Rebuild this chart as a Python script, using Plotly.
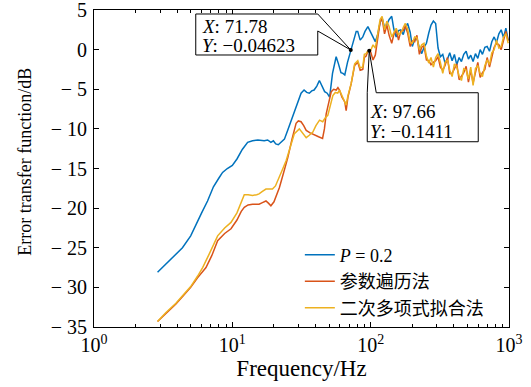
import plotly.graph_objects as go
import math

# ---------------- data ----------------
blue_f = [2.88, 3.5, 4.36, 5.0, 5.46, 6.0, 6.62, 7.3, 8.0, 8.5, 9.2, 10.0, 10.8, 11.8, 12.9,
          14.0, 15.3, 16.2, 17.0, 18.0, 19.0, 19.8, 20.6, 21.5, 22.5, 23.8, 25.1, 26.5, 28.1,
          29.8, 31.4, 33.0, 34.5, 36.0, 37.5, 39.0, 40.8, 42.6, 44.5, 46.5, 48.5, 50.5, 53.0,
          56.3, 58.5, 61.0, 63.0, 65.0, 68.0, 71.78, 75.0, 78.6, 80.6, 84.0, 87.7, 91.0, 95.5,
          100, 104, 108, 112, 117, 121, 126, 131, 136, 142, 147, 153, 159, 165, 172, 178, 185,
          193, 200, 208, 216, 225, 234, 243, 253, 263, 273, 284, 295, 307, 319, 332, 345, 359,
          373, 388, 403, 419, 436, 453, 471, 490, 509, 529, 550, 572, 595, 619, 643, 669, 695,
          723, 751, 781, 812, 845, 878, 913, 949, 987]
blue_db = [-28.1, -26.6, -25.0, -23.5, -22.0, -20.6, -19.1, -17.3, -16.2, -15.5, -15.0, -14.6,
           -13.8, -12.6, -11.7, -11.5, -11.4, -11.5, -11.5, -11.4, -11.7, -11.5, -11.9, -12.0,
           -11.7, -11.3, -10.2, -9.0, -7.7, -6.5, -5.5, -5.1, -5.4, -5.5, -5.2, -5.1, -4.6, -3.9,
           -4.6, -5.3, -5.5, -6.0, -3.0, -0.9, -1.8, -2.9, -3.0, -3.2, -1.6, -0.04623, 1.0, 2.3,
           2.3, 1.2, 1.6, 2.3, 2.9,
           2.1, 1.6, 1.0, 1.8, 3.4, 4.0, 2.8, 3.2, 3.8, 4.2, 2.6, 1.6, 2.4, 2.5, 1.9, 2.8, 3.3,
           2.2, 0.4, 1.3, 1.4, 0.2, -0.5, 0.3, 0.8, 2.1, 3.1, 3.6, 3.3, 0.2, -0.9, -0.6, -1.7,
           -1.2, -0.4, -1.4, -0.6, -1.9, -1.0, -1.5, -0.6, -0.2, -1.2, -0.7, -1.5, -0.5, -1.1,
           0.0, -0.6, 0.3, 0.4, -0.2, 1.0, 1.6, 0.9, 2.0, 2.5, 1.5, 2.7, 1.2]

orange_f = [2.88, 3.3, 3.91, 4.5, 5.0, 5.6, 6.45, 7.1, 7.83, 8.8, 9.78, 10.8, 11.6, 12.2, 13.0,
            14.0, 14.9, 15.6, 16.5, 17.5, 18.3, 19.0, 20.0, 21.0, 21.9, 23.5, 25.2, 27.0, 28.9,
            30.0, 31.4, 32.8, 34.2, 36.5, 39.3, 42.0, 44.9, 46.3, 47.7, 49.8, 51.9, 54.0, 56.4,
            58.0, 59.5, 62.0, 65.0, 66.5, 68.5, 72.3, 76.6, 80.7, 84.0, 87.7, 90.0, 92.7, 95.0,
            97.66,
            100, 104, 108, 112, 117, 121, 126, 131, 136, 142, 147, 153, 159, 165, 172, 178, 185,
            193, 200, 208, 216, 225, 234, 243, 253, 263, 273, 284, 295, 307, 319, 332, 345, 359,
            373, 388, 403, 419, 436, 453, 471, 490, 509, 529, 550, 572, 595, 619, 643, 669, 695,
            723, 751, 781, 812, 845, 878, 913, 949, 987]
orange_db = [-34.3, -33.3, -32.1, -30.9, -30.0, -28.8, -27.5, -26.0, -24.1, -23.2, -22.6, -21.5,
             -20.4, -19.9, -19.6, -19.5, -19.5, -19.5, -19.3, -19.1, -19.4, -19.7, -19.2, -18.3,
             -17.4, -15.5, -13.6, -11.3, -9.3, -9.0, -9.1, -9.6, -10.2, -10.5, -10.8, -11.0,
             -11.2, -10.0, -8.1, -6.5, -5.3, -5.0, -5.1, -4.8, -5.1, -6.0, -6.6, -7.7, -6.0, -4.3,
             -2.0, -1.6, -2.6, -2.5, -1.0, -0.8, -0.3, -0.1411,
             -0.3, -1.3, -0.7, 1.2, 3.5, 3.9, 2.0, 3.1, 1.8, 0.8, 1.9, 2.5, 1.2, 2.3, 2.4, 3.0,
             2.1, 0.4, 1.1, 1.0, 1.8, -0.6, 0.3, 0.5, -1.3, -1.4, -1.9, -1.6, -1.4, -0.9, -2.2,
             -2.6, -2.0, -1.0, -3.0, -3.0, -2.4, -1.8, -3.8, -3.4, -2.9, -2.1, -4.1, -2.6, -4.2,
             -2.9, -1.6, -3.5, -2.9, -2.5, -1.0, -2.2, -0.8, 0.3, 0.8, 0.6, 0.0, 1.2, 2.3, 1.1]

yellow_f = [2.88, 3.3, 3.91, 4.5, 5.0, 5.6, 6.1, 6.8, 7.83, 8.8, 9.78, 10.8, 11.6, 12.2, 13.0,
            14.0, 15.0, 15.6, 16.5, 17.5, 18.5, 19.5, 20.5, 21.9, 23.2, 24.5, 26.3, 28.1, 30.5,
            32.3, 34.2, 36.0, 38.2, 40.2, 42.7, 45.0, 47.0, 49.0, 51.0, 53.3, 55.5, 57.8, 59.5,
            62.0, 65.0, 66.5, 68.5, 72.3, 76.6, 80.7, 84.0, 87.7, 90.0, 92.7, 95.0, 97.66,
            100, 104, 108, 112, 117, 121, 126, 131, 136, 142, 147, 153, 159, 165, 172, 178, 185,
            193, 200, 208, 216, 225, 234, 243, 253, 263, 273, 284, 295, 307, 319, 332, 345, 359,
            373, 388, 403, 419, 436, 453, 471, 490, 509, 529, 550, 572, 595, 619, 643, 669, 695,
            723, 751, 781, 812, 845, 878, 913, 949, 987]
yellow_db = [-34.3, -33.2, -32.0, -30.8, -29.9, -28.6, -27.5, -25.8, -23.5, -22.5, -21.8, -20.6,
             -19.1, -18.3, -18.3, -18.4, -18.3, -18.2, -17.9, -17.6, -17.6, -17.6, -17.2, -16.1,
             -15.0, -14.0, -12.2, -10.6, -10.0, -10.5, -11.1, -10.8, -10.4, -9.6, -8.9, -9.1,
             -8.6, -8.3, -7.0, -5.8, -5.4, -5.5, -5.1, -5.8, -6.4, -7.0, -5.8, -4.3, -1.8, -1.4,
             -2.3, -2.2, -0.6, -0.5, -0.2, -0.1411,
             -0.1, 0.6, 0.2, 1.8, 3.8, 4.2, 2.5, 3.6, 2.9, 1.6, 2.2, 2.7, 1.9, 2.0, 2.8, 3.3,
             2.6, 0.9, 0.8, 1.6, 1.5, 0.0, 0.6, 0.8, -0.8, -1.7, -1.0, -2.2, -1.0, -0.5, -1.6,
             -3.0, -1.6, -1.3, -2.6, -3.4, -1.8, -2.2, -3.3, -3.9, -2.4, -2.6, -3.7, -2.2, -4.5,
             -2.4, -2.0, -3.0, -3.4, -2.0, -1.3, -1.9, -0.4, 0.0, 1.2, 0.2, 0.4, 1.6, 2.0, 0.8]

series_names = ["<i>P</i> = 0.2", "参数遍历法", "二次多项式拟合法"]
series_colors = ["#0072BD", "#D95319", "#EDB120"]

tip_f = [71.78, 97.66]
tip_db = [-0.04623, -0.1411]
tip_x_text = ["<i>X</i>: 71.78", "<i>X</i>: 97.66"]
tip_y_text = ["<i>Y</i>: −0.04623", "<i>Y</i>: −0.1411"]

x_tickvals = [1, 10, 100, 1000]
x_ticktext = ["10<sup>0</sup>", "10<sup>1</sup>", "10<sup>2</sup>", "10<sup>3</sup>"]
y_tickvals = [5, 0, -5, -10, -15, -20, -25, -30, -35]
y_ticktext = ["5", "0", "−\u00a05", "−\u00a010", "−\u00a015", "−\u00a020", "−\u00a025",
              "−\u00a030", "−\u00a035"]
x_minor = [2, 3, 4, 5, 6, 7, 8, 9, 20, 30, 40, 50, 60, 70, 80, 90,
           200, 300, 400, 500, 600, 700, 800, 900]

FONT = "Liberation Serif, 'Noto Sans CJK SC', serif"

fig = go.Figure()
for f, d, name, col in zip([blue_f, orange_f, yellow_f], [blue_db, orange_db, yellow_db],
                           series_names, series_colors):
    fig.add_trace(go.Scatter(x=f, y=d, mode="lines", name=name,
                             line=dict(color=col, width=1.5)))

# data tip callouts (pixel-sized shapes anchored on the tip points)
callout_paths = [
    "M -155,-5 L -155,36 L -33,36 L 0,0 L -33,19 L -33,-5 Z",
    "M -2,-42 L 0,0 L 7,-42 L 109,-42 L 109,-91 L -2,-91 Z",
]
text_shift = [(-150, 23, 4), (0, -61, -81)]
for f, d, p, tx, ty, (xs, y1, y2) in zip(tip_f, tip_db, callout_paths, tip_x_text,
                                         tip_y_text, text_shift):
    fig.add_shape(type="path", xref="x", yref="y", xsizemode="pixel", ysizemode="pixel",
                  xanchor=f, yanchor=d, path=p, fillcolor="white",
                  line=dict(color="black", width=1), layer="above")
    for t, ys in ((tx, y1), (ty, y2)):
        fig.add_annotation(x=math.log10(f), y=d, xref="x", yref="y", text=t, showarrow=False,
                           xanchor="left", yanchor="middle", xshift=xs, yshift=ys,
                           borderpad=0,
                           font=dict(family=FONT, size=19, color="black"))

fig.add_trace(go.Scatter(x=tip_f, y=tip_db, mode="markers", showlegend=False,
                         marker=dict(color="black", size=4)))

axis_common = dict(showline=True, linecolor="black", linewidth=1, mirror="allticks",
                   ticks="inside", ticklen=5, tickcolor="black", showgrid=False, zeroline=False,
                   automargin=False, ticklabeloverflow="allow",
                   tickfont=dict(family=FONT, size=20, color="black"))

fig.update_xaxes(type="log", range=[0, 3], tickvals=x_tickvals, ticktext=x_ticktext,
                 minor=dict(tickvals=x_minor, ticks="inside", ticklen=3, tickcolor="black"),
                 title=dict(text="Frequency/Hz", font=dict(family=FONT, size=23, color="black"),
                            standoff=4),
                 **axis_common)
fig.update_yaxes(range=[-35, 5], tickvals=y_tickvals, ticktext=y_ticktext,
                 ticklabelstandoff=2,
                 **axis_common)

fig.add_annotation(text="Error transfer function/dB", xref="paper", yref="paper",
                   x=-0.165, y=0.52, textangle=-90, showarrow=False,
                   xanchor="center", yanchor="middle",
                   font=dict(family=FONT, size=18, color="black"))

fig.update_layout(
    width=531, height=387,
    margin=dict(l=94, r=22, t=10, b=60),
    plot_bgcolor="white", paper_bgcolor="white",
    legend=dict(x=0.496, y=0.285, xanchor="left", yanchor="top",
                bgcolor="rgba(255,255,255,0)", borderwidth=0,
                font=dict(family=FONT, size=18, color="black"),
                tracegroupgap=0, itemwidth=30),
    showlegend=True,
)

fig.write_html("out.html", config={"displayModeBar": False},
               post_script="document.body.style.margin='0';document.body.style.padding='0';")
